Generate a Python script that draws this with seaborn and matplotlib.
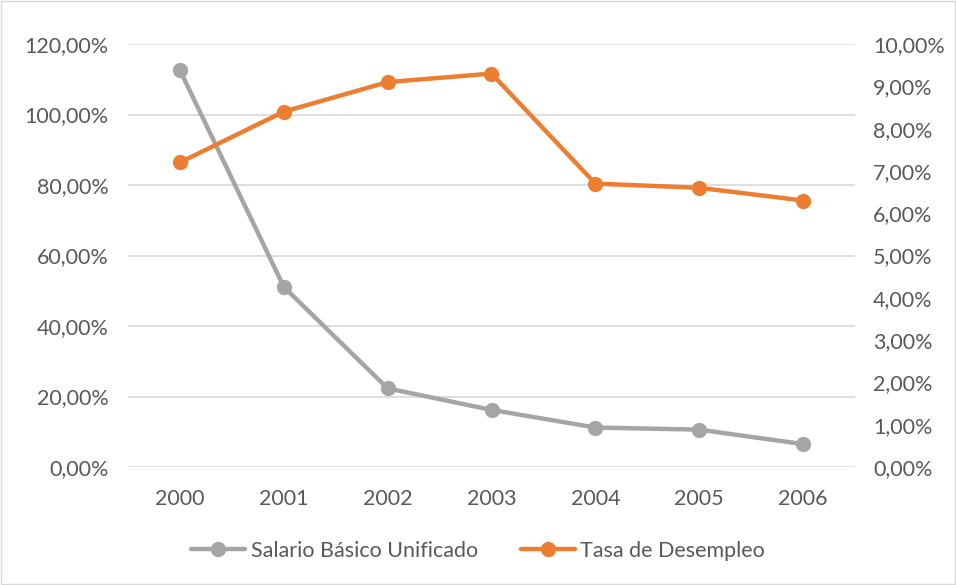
import matplotlib
matplotlib.use("Agg")
import matplotlib.pyplot as plt
import matplotlib.ticker as mticker
import pandas as pd
import seaborn as sns

# %% data
years = ["2000", "2001", "2002", "2003", "2004", "2005", "2006"]
salario = [112.6, 51.1, 22.3, 16.2, 11.2, 10.6, 6.5]     # % (left axis)
desempleo = [7.2, 8.4, 9.1, 9.3, 6.7, 6.6, 6.3]          # % (right axis)

df = pd.DataFrame({"year": years, "salario": salario, "desempleo": desempleo})

gray = "#A5A5A5"
orange = "#ED7D31"
text_col = "#595959"
fs = 15.5

sns.set_style("white")
plt.rcParams["font.family"] = ["Lato", "DejaVu Sans"]
plt.rcParams["font.size"] = fs

fig = plt.figure(figsize=(9.56, 5.85), dpi=100)
ax = fig.add_axes([128 / 956, 1 - 467 / 585, (855 - 128) / 956, (467 - 44) / 585])
ax2 = ax.twinx()

sns.lineplot(data=df, x="year", y="salario", ax=ax, color=gray, lw=3.2,
             marker="o", markersize=11, markeredgewidth=0,
             label="Salario Básico Unificado", legend=False, sort=False)
sns.lineplot(data=df, x="year", y="desempleo", ax=ax2, color=orange, lw=3.2,
             marker="o", markersize=11, markeredgewidth=0,
             label="Tasa de Desempleo", legend=False, sort=False)

ax.set_xlim(-0.5, len(years) - 0.5)
ax.set_ylim(0, 120)
ax2.set_ylim(0, 10)
ax.yaxis.set_major_locator(mticker.MultipleLocator(20))
ax2.yaxis.set_major_locator(mticker.MultipleLocator(1))
fmt = mticker.FuncFormatter(lambda v, p: f"{v:.2f}%".replace(".", ","))
ax.yaxis.set_major_formatter(fmt)
ax2.yaxis.set_major_formatter(fmt)

ax.grid(axis="y", color="#D9D9D9", lw=1.2)
ax.set_axisbelow(True)
for a in (ax, ax2):
    for s in a.spines.values():
        s.set_visible(False)
    a.set_xlabel("")
    a.set_ylabel("")
    a.tick_params(length=0, colors=text_col, labelsize=fs)
ax.tick_params(axis="x", pad=16)
ax.tick_params(axis="y", pad=14)
ax2.tick_params(axis="y", pad=13)

h1, l1 = ax.get_legend_handles_labels()
h2, l2 = ax2.get_legend_handles_labels()
fig.legend(h1 + h2, l1 + l2, loc="center", bbox_to_anchor=(0.5, 1 - 551 / 585),
           ncol=2, frameon=False, fontsize=fs, labelcolor=text_col,
           handlelength=2.5, handletextpad=0.25, columnspacing=2.0)

# light border around the chart
fig.patches.append(plt.Rectangle((0.0015, 0.0015), 0.997, 0.997, transform=fig.transFigure,
                                 fill=False, edgecolor="#D9D9D9", lw=1))

fig.savefig("out.png", dpi=100)
